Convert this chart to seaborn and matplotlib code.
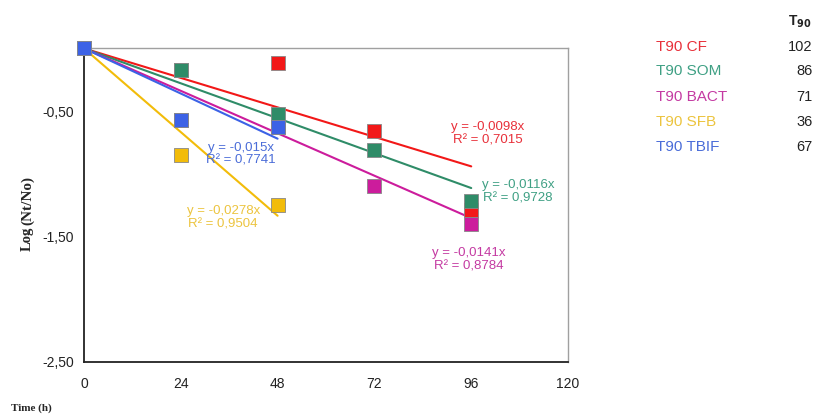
import numpy as np
import pandas as pd
import matplotlib
matplotlib.use("Agg")
import matplotlib.pyplot as plt
import seaborn as sns

sns.set_theme(style="white")
plt.rcParams['font.family'] = ['Liberation Sans', 'DejaVu Sans']

# ---- data ----
series = ["T90 CF", "T90 SOM", "T90 BACT", "T90 SFB", "T90 TBIF"]
times_cf = [0, 24, 48, 72, 96]
log_cf = [0.0, -0.17, -0.12, -0.66, -1.29]
times_som = [0, 24, 48, 72, 96]
log_som = [0.0, -0.17, -0.52, -0.81, -1.22]
times_bact = [0, 24, 48, 72, 96]
log_bact = [0.0, -0.57, -0.63, -1.10, -1.40]
times_sfb = [0, 24, 48]
log_sfb = [0.0, -0.85, -1.25]
times_tbif = [0, 24, 48]
log_tbif = [0.0, -0.57, -0.63]

slopes = [-0.0098, -0.0116, -0.0141, -0.0278, -0.015]
r2 = ["0,7015", "0,9728", "0,8784", "0,9504", "0,7741"]
slope_txt = ["-0,0098", "-0,0116", "-0,0141", "-0,0278", "-0,015"]
t90_values = [102, 86, 71, 36, 67]

colors = ["#f21818", "#2f8c68", "#cc1c9c", "#f2bc0a", "#3c62e6"]
text_colors = ["#e8303a", "#3fa084", "#c43aa2", "#ecc43e", "#4a6cd8"]

all_t = [times_cf, times_som, times_bact, times_sfb, times_tbif]
all_y = [log_cf, log_som, log_bact, log_sfb, log_tbif]

rows = []
for name, ts, ys in zip(series, all_t, all_y):
    for t, y in zip(ts, ys):
        rows.append({"series": name, "time": t, "log": y})
df = pd.DataFrame(rows)

trend_rows = []
for name, ts, s in zip(series, all_t, slopes):
    for t in (0, max(ts)):
        trend_rows.append({"series": name, "time": t, "log": s * t})
tdf = pd.DataFrame(trend_rows)

fig = plt.figure(figsize=(8.15, 4.17), dpi=100)
ax = fig.add_axes([0.103, 0.132, 0.594, 0.752])
pal = dict(zip(series, colors))

sns.lineplot(data=tdf, x="time", y="log", hue="series", palette=pal,
             hue_order=series, linewidth=1.5, legend=False, ax=ax, zorder=2)
sns.scatterplot(data=df, x="time", y="log", hue="series", palette=pal,
                hue_order=series, marker="s", s=100, linewidth=0.6,
                edgecolor="#888888", legend=False, ax=ax, zorder=3, clip_on=False)

ax.set_xlim(0, 120)
ax.set_ylim(-2.5, 0)
ax.set_xticks([0, 24, 48, 72, 96, 120])
ax.set_yticks([-0.5, -1.5, -2.5])
ax.set_yticklabels(["-0,50", "-1,50", "-2,50"])
ax.tick_params(axis="x", labelsize=10, colors="#222222", length=0, pad=11)
ax.tick_params(axis="y", labelsize=10, colors="#222222", length=4,
               direction="out", color="#333333", width=0.8, pad=3)
ax.set_xlabel("")
ax.set_ylabel("")
for side in ["top", "right"]:
    ax.spines[side].set_color("#a0a0a0")
    ax.spines[side].set_linewidth(1.0)
for side in ["left", "bottom"]:
    ax.spines[side].set_color("#222222")
    ax.spines[side].set_linewidth(1.3)

# trendline labels
label_pos = [(100, -0.68), (107.6, -1.14), (95.5, -1.684), (34.5, -1.35), (38.9, -0.844)]
for (x, y), st, r, c in zip(label_pos, slope_txt, r2, text_colors):
    ax.text(x, y, f"y = {st}x\nR² = {r}", color=c, fontsize=9.5,
            ha="center", va="center", linespacing=1.15)

# axis titles
fig.text(0.034, 0.427, "Log", rotation=90, ha="center", va="center",
         fontsize=10.5, fontweight="bold", family="Liberation Serif")
fig.text(0.034, 0.519, "(Nt/No)", rotation=90, ha="center", va="center",
         fontsize=11, fontweight="bold", family="Liberation Serif")
fig.text(0.013, 0.022, "Time (h)", ha="left", va="center",
         fontsize=8, fontweight="bold", family="Liberation Serif")

# T90 table on the right
fig.text(0.981, 0.947, r"T$_{\mathbf{90}}$", ha="center", va="center",
         fontsize=10, fontweight="bold", color="#222222")
ys_fig = [0.888, 0.829, 0.768, 0.707, 0.647]
for name, v, c, yy in zip(series, t90_values, text_colors, ys_fig):
    fig.text(0.805, yy, name, color=c, fontsize=11, ha="left", va="center")
    fig.text(0.997, yy, str(v), color="#222222", fontsize=10.5, ha="right", va="center")

fig.savefig("out.png", dpi=100)
